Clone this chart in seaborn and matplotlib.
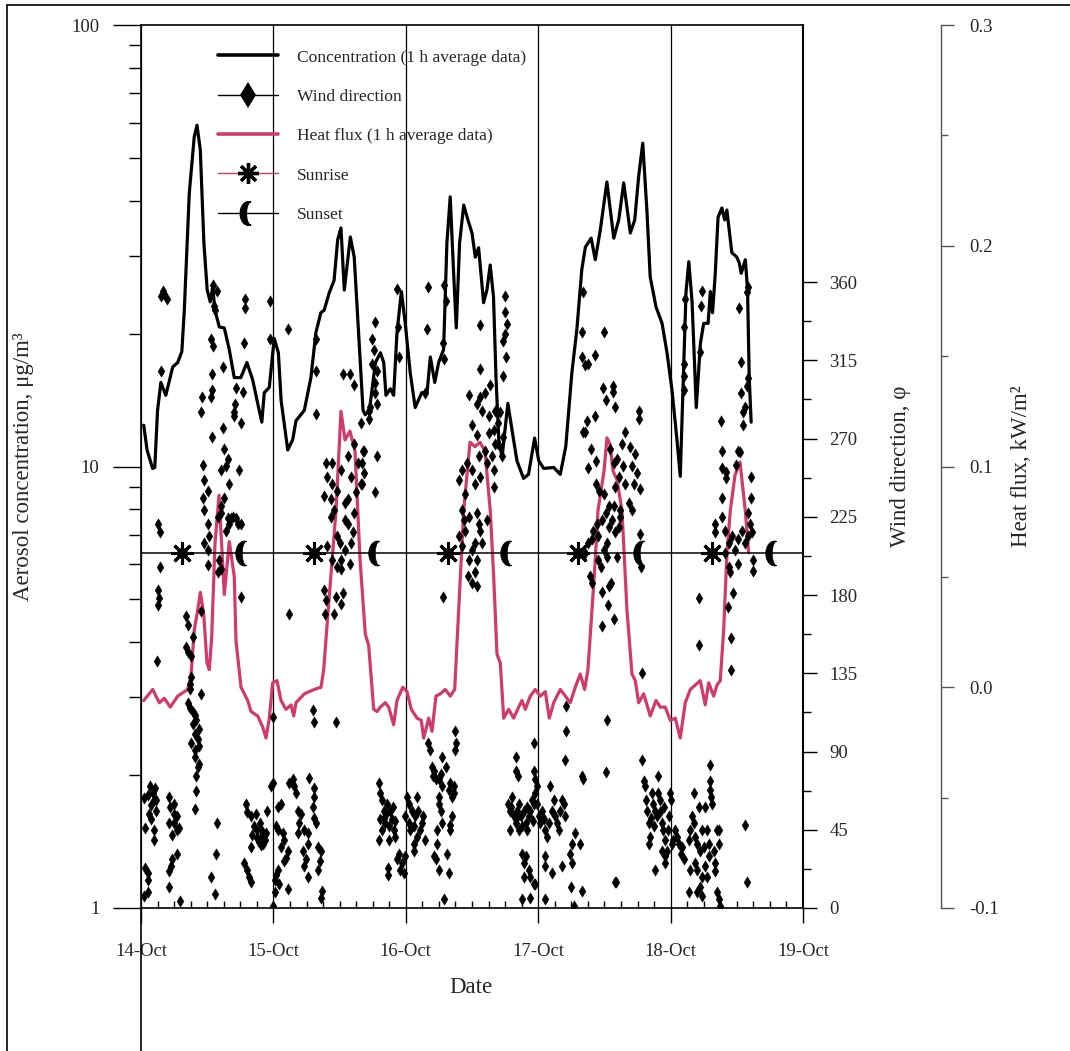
import numpy as np
import pandas as pd
import matplotlib
matplotlib.use("Agg")
import matplotlib.pyplot as plt
import seaborn as sns
from matplotlib.lines import Line2D
from matplotlib.path import Path
from matplotlib.ticker import FixedLocator, FixedFormatter, NullFormatter

# ---------------- data (hours since 14-Oct 00:00) ----------------
DAY_LABELS = ["14-Oct", "15-Oct", "16-Oct", "17-Oct", "18-Oct", "19-Oct"]

CONC_SERIES = [  # (hour, aerosol concentration ug/m3), 1 h average
    (0.5, 12.4), (1.1, 10.9), (2.1, 9.9), (2.5, 9.95), (3.0, 13.4), (3.6, 15.5), (4.5, 14.5),
    (5.75, 16.8), (6.65, 17.2), (7.4, 18.2), (7.85, 22.6), (8.75, 41.6), (9.65, 55.8),
    (10.15, 59.3), (10.75, 52.1), (11.4, 32.1), (12.0, 25.1), (12.55, 23.6), (13.0, 25.5),
    (13.4, 22.6), (14.2, 20.7), (15.1, 20.6), (16.0, 18.4), (16.9, 15.9), (18.1, 15.9),
    (19.2, 17.2), (20.25, 15.7), (21.15, 13.9), (21.9, 12.6), (22.35, 14.7), (23.25, 15.1),
    (24.15, 19.5), (24.9, 18.1), (25.4, 14.1), (26.6, 10.9), (27.5, 11.5), (28.1, 12.7),
    (29.6, 13.4), (30.8, 15.9), (31.7, 20.1), (32.6, 22.3), (33.2, 22.6), (34.1, 24.7),
    (35.0, 26.4), (35.65, 32.6), (36.25, 34.7), (36.85, 25.1), (37.95, 33.1), (38.65, 29.8),
    (39.55, 19.0), (40.25, 13.4), (40.65, 13.1), (41.4, 13.4), (42.5, 17.2), (43.4, 18.1),
    (44.0, 17.2), (44.4, 14.5), (45.2, 15.0), (45.8, 14.5), (46.4, 20.1), (47.2, 24.9),
    (47.9, 21.1), (48.8, 16.3), (49.7, 13.6), (50.9, 14.7), (51.85, 14.7), (52.45, 17.7),
    (53.25, 15.5), (53.95, 17.2), (54.85, 18.4), (55.45, 32.1), (56.05, 40.8), (56.7, 26.9),
    (57.15, 20.6), (57.75, 32.1), (58.5, 39.1), (59.25, 36.2), (60.0, 33.8), (60.6, 29.8),
    (61.2, 31.3), (62.1, 23.5), (62.7, 25.1), (63.3, 28.6), (63.9, 24.2), (64.35, 15.9),
    (64.85, 11.5), (65.45, 10.5), (66.5, 13.9), (67.25, 12.1), (68.15, 10.3), (69.35, 9.4),
    (70.25, 9.6), (71.35, 11.6), (72.1, 10.3), (73.0, 9.9), (74.8, 9.95), (76.0, 9.6),
    (77.0, 11.1), (78.1, 16.3), (79.0, 20.4), (79.9, 27.9), (80.55, 31.4), (81.6, 32.9),
    (82.35, 29.4), (83.25, 34.3), (84.45, 44.1), (85.7, 32.9), (86.6, 36.2), (87.5, 43.9),
    (88.7, 33.8), (89.5, 36.2), (90.2, 45.3), (90.95, 54.0), (91.7, 38.1), (92.3, 26.9),
    (93.35, 23.0), (94.45, 21.1), (95.35, 18.1), (96.25, 14.9), (97.15, 11.5), (97.75, 9.5),
    (98.35, 16.5), (98.8, 24.9), (99.3, 29.1), (99.9, 23.5), (100.65, 13.6), (101.4, 19.0),
    (102.0, 21.1), (102.8, 21.1), (103.2, 24.9), (103.6, 22.3), (104.1, 27.4), (104.6, 36.7),
    (105.3, 38.5), (105.8, 36.2), (106.2, 38.1), (107.1, 30.5), (108.0, 29.8), (108.45, 28.9),
    (108.8, 27.4), (109.55, 29.4), (109.95, 25.1), (110.25, 15.9), (110.6, 12.6),
]

HEAT_SERIES = [  # (hour, heat flux kW/m2), 1 h average
    (0.49, -0.006), (2.12, -0.001), (3.32, -0.007), (4.22, -0.005), (5.31, -0.009),
    (6.65, -0.004), (8.46, -0.001), (9.06, 0.005), (9.66, 0.026), (10.28, 0.035),
    (10.75, 0.043), (11.37, 0.033), (11.96, 0.011), (12.38, 0.008), (12.82, 0.023),
    (13.41, 0.065), (14.14, 0.087), (15.1, 0.042), (16.0, 0.066), (16.91, 0.05),
    (17.22, 0.021), (18.13, 0.0), (19.34, -0.006), (19.94, -0.011), (21.15, -0.013),
    (22.06, -0.018), (22.66, -0.023), (23.26, -0.014), (23.87, 0.002), (24.65, 0.003),
    (25.38, -0.006), (26.28, -0.010), (27.19, -0.008), (27.68, -0.013), (28.1, -0.007),
    (29.6, -0.003), (31.41, -0.001), (32.63, 0.0), (33.12, 0.008), (33.84, 0.032),
    (34.75, 0.061), (35.35, 0.080), (36.25, 0.125), (36.98, 0.112), (37.88, 0.116),
    (38.79, 0.107), (39.7, 0.058), (40.66, 0.024), (41.27, 0.019), (42.18, -0.010),
    (42.78, -0.011), (43.38, -0.009), (44.28, -0.007), (44.9, -0.009), (45.8, -0.017),
    (46.4, -0.006), (47.44, 0.0), (48.22, -0.002), (49.0, -0.010), (50.03, -0.014),
    (50.81, -0.015), (51.24, -0.023), (52.15, -0.014), (52.75, -0.020), (53.47, -0.004),
    (54.25, -0.003), (55.16, -0.001), (56.06, -0.004), (56.86, -0.001), (57.28, 0.020),
    (57.88, 0.050), (58.49, 0.080), (59.64, 0.111), (60.54, 0.109), (61.45, 0.111),
    (62.35, 0.107), (63.31, 0.080), (63.93, 0.050), (64.53, 0.015), (65.13, 0.011),
    (65.74, -0.014), (66.65, -0.010), (67.56, -0.014), (68.46, -0.009), (69.06, -0.006),
    (69.66, -0.010), (70.57, -0.004), (71.47, -0.001), (72.38, -0.004), (73.29, -0.002),
    (74.01, -0.014), (74.81, -0.007), (76.0, -0.001), (76.91, -0.004), (77.82, -0.007),
    (78.72, 0.0), (79.63, 0.006), (80.42, -0.001), (81.02, 0.008), (81.75, 0.035),
    (82.35, 0.058), (82.84, 0.080), (83.38, 0.089), (83.93, 0.098), (84.47, 0.113),
    (85.01, 0.110), (85.56, 0.098), (86.28, 0.094), (87.19, 0.080), (88.09, 0.035),
    (89.0, 0.006), (89.6, 0.003), (90.21, -0.007), (91.12, -0.003), (92.31, -0.013),
    (93.35, -0.006), (94.13, -0.009), (95.03, -0.009), (95.94, -0.015), (96.85, -0.014),
    (97.75, -0.023), (98.66, -0.007), (99.57, -0.001), (100.47, 0.001), (101.38, 0.003),
    (102.28, -0.008), (102.9, 0.002), (103.81, -0.004), (104.41, 0.001), (105.0, 0.003),
    (105.62, 0.026), (106.22, 0.061), (106.82, 0.080), (107.67, 0.096), (108.58, 0.102),
    (109.54, 0.080), (110.15, 0.061),
]

WIND_DAY1 = [  # (hour, wind direction deg)
    (3.9, 355), (4.2, 353), (4.8, 350), (3.6, 352), (13.0, 358), (13.8, 355), (13.2, 346),
    (13.4, 344), (18.9, 350), (18.9, 345), (18.6, 325), (23.3, 349), (23.3, 327), (12.6, 327),
    (13.0, 323), (3.6, 309), (12.8, 307), (14.8, 311), (17.2, 299), (18.4, 297), (17.1, 290),
    (16.9, 285), (16.8, 283), (18.1, 279), (12.8, 298), (12.6, 294), (11.0, 294), (10.9, 285),
    (14.8, 276), (12.9, 271), (15.1, 264), (15.8, 258), (14.5, 252), (15.4, 254), (16.0, 244),
    (17.8, 252), (11.2, 255), (11.5, 246), (12.1, 240), (11.2, 236), (15.1, 236), (14.5, 231),
    (3.0, 221), (3.5, 216), (3.5, 196), (3.1, 183), (3.3, 178), (3.1, 174), (2.9, 142),
    (8.2, 168), (8.5, 163), (9.4, 156), (8.2, 150), (8.5, 147), (9.1, 145), (9.1, 133),
    (8.9, 129), (8.8, 126), (10.8, 171), (10.8, 123), (8.5, 118), (8.9, 115), (9.4, 113),
    (9.7, 111), (10.0, 108), (9.4, 106), (10.6, 103), (9.7, 100), (9.1, 95), (10.3, 97),
    (10.6, 93), (9.7, 91), (9.8, 87), (10.6, 83), (10.3, 81), (10.0, 76), (10.0, 67), (9.8, 57),
    (0.6, 63), (1.2, 65), (1.7, 70), (2.1, 66), (2.5, 69), (2.4, 62), (1.8, 59), (2.7, 56),
    (1.5, 54), (1.8, 51), (0.7, 46), (2.3, 45), (2.4, 39), (2.7, 62), (5.0, 64), (5.3, 58),
    (6.0, 60), (6.0, 54), (5.0, 49), (6.0, 49), (6.6, 45), (5.7, 42), (6.9, 46), (6.5, 53),
    (0.7, 23), (1.2, 20), (1.3, 16), (0.6, 7), (1.3, 9), (5.7, 28), (5.4, 24), (5.1, 21),
    (5.0, 12), (6.6, 31), (7.0, 4), (13.8, 49), (13.6, 31), (12.7, 18), (13.4, 8),
    (11.5, 229), (12.1, 221), (12.4, 214), (11.5, 210), (12.1, 206), (12.1, 197), (13.9, 225),
    (14.5, 227), (15.8, 224), (16.6, 225), (17.5, 221), (18.1, 221), (15.4, 217), (14.2, 200),
    (14.5, 195), (13.9, 193), (18.1, 179), (16.3, 224), (17.2, 224), (16.0, 221),
    (19.0, 60), (19.3, 55), (19.9, 53), (20.8, 54), (20.5, 47), (20.2, 42), (21.1, 45),
    (21.8, 41), (22.4, 39), (22.1, 37), (22.7, 43), (19.9, 35), (21.5, 49), (22.8, 56),
    (23.6, 70), (23.9, 72), (18.7, 26), (19.3, 22), (19.6, 18), (19.9, 15), (21.0, 40),
    (21.4, 38), (22.0, 44), (21.7, 36),
]

WIND_DAY2 = [
    (24.8, 58), (25.4, 60), (24.5, 47), (24.8, 45), (25.7, 43), (26.0, 39), (25.4, 35),
    (26.6, 33), (26.3, 29), (26.0, 27), (24.8, 22), (25.1, 14), (26.6, 11), (24.2, 16),
    (24.5, 19), (24.2, 9), (24.0, 1), (26.9, 72), (27.5, 74), (27.8, 70), (28.1, 66),
    (28.4, 56), (29.0, 54), (28.7, 49), (28.4, 43), (29.6, 45), (30.2, 43), (30.2, 37),
    (29.3, 33), (29.9, 28), (29.6, 24), (30.2, 18), (30.5, 75), (31.4, 69), (31.4, 64),
    (31.1, 58), (31.4, 52), (31.7, 49), (32.0, 35), (32.6, 33), (32.5, 27), (32.0, 22),
    (32.9, 10), (32.6, 6), (26.9, 169), (31.1, 114), (31.4, 107), (35.3, 107), (24.0, 110),
    (33.2, 183), (33.5, 177), (33.4, 169), (35.0, 169), (35.3, 179), (36.3, 175), (36.6, 181),
    (34.4, 225), (35.0, 229), (35.6, 214), (36.0, 210), (36.9, 206), (36.3, 200), (37.5, 221),
    (37.8, 198), (38.4, 216), (36.9, 223), (38.7, 227), (33.8, 208), (34.7, 200), (35.6, 196),
    (36.3, 195), (38.1, 210), (26.6, 333), (31.7, 327), (31.7, 309), (31.7, 284), (36.7, 307),
    (37.9, 307), (38.7, 301), (33.5, 256), (34.7, 256), (33.8, 248), (34.7, 244), (33.1, 237),
    (34.4, 235), (35.6, 240), (36.3, 252), (37.5, 260), (38.7, 267), (39.9, 279), (39.3, 256),
    (38.1, 248), (39.9, 244), (37.5, 235), (39.0, 239), (36.9, 233), (40.2, 263),
    (42.5, 337), (41.9, 327), (42.2, 321), (41.9, 313), (42.8, 309), (42.5, 302), (42.4, 296),
    (42.8, 290), (41.6, 288), (41.4, 281), (41.3, 286), (40.4, 263), (40.1, 256), (40.4, 250),
    (40.1, 244), (42.8, 260), (42.5, 239), (46.4, 356), (46.6, 334), (46.7, 317),
    (43.1, 72), (43.4, 66), (43.7, 62), (44.0, 56), (43.4, 51), (43.7, 45), (44.3, 49),
    (44.6, 60), (45.2, 56), (45.5, 51), (45.8, 45), (44.9, 39), (46.1, 41), (43.1, 39),
    (46.4, 28), (46.7, 31), (47.3, 26), (47.0, 22), (47.6, 20), (47.9, 30), (44.8, 23),
    (44.8, 19), (47.9, 53), (44.0, 52), (44.5, 54), (45.0, 47), (46.0, 50), (45.6, 58),
]

WIND_DAY3 = [
    (48.5, 49), (48.8, 45), (49.4, 47), (49.7, 53), (50.3, 56), (50.0, 64), (49.1, 56),
    (50.9, 49), (51.2, 53), (50.6, 45), (50.0, 41), (49.4, 37), (49.4, 33), (51.5, 39),
    (48.2, 64), (48.5, 60), (52.1, 95), (52.4, 91), (52.8, 81), (53.1, 79), (52.9, 76),
    (53.4, 74), (54.0, 74), (54.6, 87), (54.3, 77), (54.6, 70), (55.2, 81), (55.8, 68),
    (56.1, 72), (56.4, 64), (57.0, 102), (57.1, 95), (57.0, 91), (56.7, 70), (56.7, 66),
    (54.0, 64), (54.0, 60), (54.3, 56), (54.6, 49), (53.7, 45), (53.7, 37), (53.1, 30),
    (53.4, 28), (54.0, 22), (55.5, 31), (56.1, 45), (56.4, 53), (56.1, 48), (55.8, 20),
    (54.9, 5), (58.2, 229), (58.5, 223), (58.8, 217), (59.4, 225), (60.9, 227), (61.2, 221),
    (61.5, 217), (60.6, 210), (60.0, 206), (59.4, 200), (60.9, 200), (60.6, 193), (59.3, 191),
    (60.0, 187), (60.9, 185), (57.6, 214), (58.2, 208), (61.8, 210), (62.7, 223), (54.7, 179),
    (52.1, 357), (51.8, 333), (54.9, 358), (55.2, 349), (54.7, 325), (54.9, 316), (51.5, 296),
    (61.5, 335), (61.4, 310), (66.0, 352), (65.9, 343), (66.3, 336), (66.0, 330), (65.7, 326),
    (66.2, 317), (65.7, 306), (59.4, 295), (60.9, 290), (61.5, 294), (62.4, 296), (63.3, 301),
    (61.8, 286), (63.0, 283), (64.2, 286), (65.1, 285), (64.8, 279), (63.9, 275), (64.2, 267),
    (63.0, 273), (62.4, 263), (63.6, 260), (60.9, 272), (60.0, 278), (61.2, 260), (60.0, 252),
    (59.1, 256), (58.2, 252), (57.6, 246), (58.8, 238), (60.6, 244), (61.5, 248), (62.7, 256),
    (63.9, 252), (63.9, 242), (64.8, 267), (65.4, 260), (65.7, 271),
    (66.6, 60), (66.9, 56), (67.3, 64), (67.6, 53), (67.9, 49), (68.2, 56), (68.5, 60),
    (68.8, 53), (69.1, 47), (69.4, 56), (69.7, 49), (70.0, 45), (70.3, 53), (70.6, 56),
    (70.9, 62), (71.2, 60), (71.5, 66), (71.8, 60), (68.5, 45), (68.0, 87), (68.0, 79),
    (68.3, 76), (71.2, 95), (71.2, 79), (71.5, 74), (71.8, 70), (66.9, 45), (69.1, 31),
    (69.4, 26), (69.7, 30), (70.3, 22), (70.6, 18), (69.4, 18), (71.2, 14), (71.5, 14),
    (69.0, 5), (70.6, 6), (67.0, 58), (68.0, 51), (70.0, 58), (71.0, 50),
]

WIND_DAY4 = [
    (72.1, 53), (72.4, 49), (72.7, 56), (73.0, 51), (73.3, 45), (73.6, 41), (73.9, 49),
    (74.2, 70), (74.5, 56), (74.8, 62), (75.1, 53), (75.4, 49), (75.7, 45), (76.0, 56),
    (76.3, 62), (76.6, 60), (76.9, 53), (73.2, 30), (73.3, 24), (74.5, 20), (76.3, 24),
    (77.8, 31), (78.2, 26), (78.1, 37), (78.7, 43), (78.0, 12), (79.6, 37), (79.9, 10),
    (73.3, 5), (78.4, 1), (79.9, 76), (77.0, 116), (77.0, 102), (76.9, 85),
    (80.2, 354), (79.9, 331), (83.9, 331), (80.4, 312), (81.0, 313), (82.3, 318), (83.7, 299),
    (84.3, 292), (85.5, 300), (85.5, 297), (86.0, 288), (82.3, 283), (80.8, 280), (80.5, 274),
    (81.6, 264), (81.1, 253), (82.5, 257), (82.5, 244), (83.0, 240), (84.0, 238), (85.1, 264),
    (85.7, 256), (86.3, 258), (87.2, 267), (87.8, 274), (87.3, 254), (88.7, 265), (89.0, 254),
    (89.6, 261), (89.9, 250), (90.5, 241), (89.3, 244), (87.7, 244), (86.6, 248), (86.0, 242),
    (84.9, 231), (85.7, 231), (88.4, 233), (90.2, 286), (90.3, 281), (80.0, 317), (80.1, 274),
    (80.5, 204), (81.1, 210), (81.7, 212), (82.0, 217), (82.6, 221), (82.9, 214), (83.6, 223),
    (84.2, 227), (84.5, 210), (84.8, 219), (85.4, 223), (86.0, 216), (86.6, 219), (86.9, 225),
    (83.9, 206), (84.5, 202), (82.9, 200), (83.3, 196), (81.4, 191), (81.7, 187), (83.6, 182),
    (84.8, 185), (85.2, 187), (84.6, 174), (85.7, 166), (83.6, 162), (86.3, 202), (86.9, 229),
    (90.5, 215), (90.7, 196), (89.0, 229), (90.8, 135), (84.5, 108), (84.3, 78), (80.2, 74),
    (86.0, 15), (86.1, 15),
    (90.8, 85), (91.1, 73), (91.4, 70), (91.5, 62), (91.7, 56), (92.0, 49), (92.3, 41),
    (92.0, 37), (92.6, 66), (92.9, 60), (93.2, 56), (93.5, 53), (93.7, 76), (93.8, 66),
    (94.1, 62), (94.4, 49), (94.7, 45), (95.0, 39), (95.3, 33), (95.6, 45), (95.8, 53),
    (95.9, 66), (94.4, 33), (95.0, 30), (95.0, 26), (93.2, 22), (92.5, 52), (93.0, 47),
    (94.0, 55), (94.8, 58),
]

WIND_DAY5 = [
    (96.1, 62), (96.2, 37), (96.5, 39), (96.8, 45), (97.2, 41), (97.5, 37), (97.8, 31),
    (98.1, 35), (98.4, 28), (99.3, 39), (99.6, 45), (99.9, 53), (100.2, 49), (100.5, 41),
    (100.8, 37), (101.1, 58), (101.4, 33), (101.7, 45), (102.0, 35), (102.3, 58), (102.6, 45),
    (102.9, 37), (103.2, 68), (103.4, 64), (103.5, 60), (103.2, 73), (103.1, 82), (103.8, 33),
    (104.1, 26), (104.4, 45), (104.7, 37), (104.8, 45), (100.2, 66), (99.6, 22), (100.5, 26),
    (100.8, 22), (101.7, 18), (102.3, 24), (102.6, 18), (102.9, 30), (101.4, 12), (99.3, 9),
    (100.8, 9), (101.7, 7), (104.4, 9), (104.7, 5), (105.0, 1), (104.1, 21), (109.5, 48),
    (109.8, 15), (104.1, 221), (104.1, 216), (105.3, 225), (105.9, 217), (106.5, 210),
    (107.1, 214), (107.7, 206), (108.3, 212), (108.9, 217), (109.5, 210), (110.1, 214),
    (110.4, 221), (110.7, 216), (110.1, 227), (105.9, 204), (106.5, 196), (106.8, 193),
    (108.3, 198), (111.0, 200), (110.9, 194), (107.4, 181), (106.4, 173), (101.1, 178),
    (101.2, 151), (107.0, 155), (107.0, 137), (101.7, 355), (101.6, 346), (98.7, 350),
    (98.5, 334), (98.4, 313), (98.4, 306), (98.5, 298), (101.4, 320), (108.4, 345),
    (108.8, 314), (108.8, 296), (109.1, 285), (109.2, 278), (109.5, 288), (109.8, 300),
    (110.1, 305), (109.8, 354), (110.1, 357), (105.2, 280), (105.3, 263), (105.3, 253),
    (106.0, 251), (106.0, 247), (107.8, 255), (108.3, 263), (108.6, 262), (110.6, 248),
    (110.6, 236), (105.4, 236),
]

SUNRISE_HOURS = [7.5, 31.4, 55.6, 79.3, 103.5]
SUNSET_HOURS = [18.7, 42.8, 66.7, 90.8, 114.8]
SUN_LEVEL = 204  # drawn on the wind-direction scale

PINK = "#d03a6c"

conc_df = pd.DataFrame(CONC_SERIES, columns=["hour", "conc"])
heat_df = pd.DataFrame(HEAT_SERIES, columns=["hour", "flux"])
wind_df = pd.DataFrame(WIND_DAY1 + WIND_DAY2 + WIND_DAY3 + WIND_DAY4 + WIND_DAY5,
                       columns=["hour", "deg"])

# ---------------- style ----------------
sns.set_theme(style="white")
plt.rcParams["font.family"] = ["Liberation Serif", "DejaVu Serif"]
plt.rcParams["axes.unicode_minus"] = False

TICK_FS = 13.5
LABEL_FS = 16.5
LEG_FS = 12.6

# crescent-moon marker
t = np.linspace(np.radians(75), np.radians(285), 40)
outer = np.column_stack([0.7 * np.cos(t), np.sin(t)])
xe, ye = 0.7 * np.cos(np.radians(285)), np.sin(np.radians(285))
u = np.linspace(0, np.pi, 30)
inner = np.column_stack([xe - 0.36 * np.sin(u), ye * np.cos(u)])
mv = np.vstack([outer, inner, outer[:1]])
mc = [Path.MOVETO] + [Path.LINETO] * (len(mv) - 2) + [Path.CLOSEPOLY]
MOON = Path(mv, mc)

W, H = 1070, 1051
fig = plt.figure(figsize=(W / 100, H / 100), dpi=100)
L, R, B, T = 141 / W, 803 / W, 1 - 908 / H, 1 - 25 / H
ax = fig.add_axes([L, B, R - L, T - B])
ax2 = ax.twinx()   # wind direction
ax3 = ax.twinx()   # heat flux
ax3.set_zorder(1)
ax2.set_zorder(2)

# concentration
sns.lineplot(data=conc_df, x="hour", y="conc", ax=ax, color="black", lw=2.3,
             estimator=None, sort=False, legend=False)
ax.set_yscale("log")
ax.set_ylim(1, 100)
ax.set_xlim(0, 120)

# heat flux
sns.lineplot(data=heat_df, x="hour", y="flux", ax=ax3, color=PINK, lw=2.3,
             estimator=None, sort=False, legend=False)
ax3.set_ylim(-0.1, 0.3)

# wind direction
sns.scatterplot(data=wind_df, x="hour", y="deg", ax=ax2, marker="d", s=34,
                color="black", edgecolor="black", linewidth=0.3, legend=False)
ax2.set_ylim(0, 507.8)

# sunrise / sunset
ax2.axhline(SUN_LEVEL, color="black", lw=1.1, zorder=3)
ax2.plot(SUNRISE_HOURS, [SUN_LEVEL] * len(SUNRISE_HOURS), ls="none", marker=(8, 2, 0),
         ms=16, mew=2.2, color="black", zorder=4)
ax2.plot(SUNRISE_HOURS, [SUN_LEVEL] * len(SUNRISE_HOURS), ls="none", marker="o",
         ms=7, color="black", zorder=4)
ax2.plot(SUNSET_HOURS, [SUN_LEVEL] * len(SUNSET_HOURS), ls="none", marker=MOON,
         ms=18, mfc="black", mec="black", mew=0.5, zorder=4)

# ---------------- axes cosmetics ----------------
for a in (ax, ax2, ax3):
    a.set_xlabel("")
    a.set_ylabel("")

# x axis
ax.xaxis.set_major_locator(FixedLocator([24 * i for i in range(len(DAY_LABELS))]))
ax.xaxis.set_major_formatter(FixedFormatter(DAY_LABELS))
ax.xaxis.set_minor_locator(FixedLocator(np.arange(0, 121, 3)))
ax.tick_params(axis="x", which="major", direction="out", length=11, width=1.0,
               color="black", labelsize=TICK_FS, pad=14, bottom=True)
ax.tick_params(axis="x", which="minor", direction="in", length=5, width=1.0,
               color="black", bottom=True)
ax.grid(True, axis="x", which="major", color="black", lw=0.9)
ax.grid(False, axis="y")

# left log axis
ax.yaxis.set_major_locator(FixedLocator([1, 10, 100]))
ax.yaxis.set_major_formatter(FixedFormatter(["1", "10", "100"]))
ax.yaxis.set_minor_locator(FixedLocator([m * d for d in (1, 10) for m in range(2, 10)]))
ax.yaxis.set_minor_formatter(NullFormatter())
ax.tick_params(axis="y", which="major", direction="out", length=20, width=1.0,
               color="black", labelsize=TICK_FS, pad=10, left=True)
ax.tick_params(axis="y", which="minor", direction="out", length=9, width=1.0,
               color="black", left=True)
for s in ax.spines.values():
    s.set_color("black")
    s.set_linewidth(1.2)
ax.spines["right"].set_visible(False)

# wind axis
ax2.yaxis.set_major_locator(FixedLocator(np.arange(0, 361, 45)))
ax2.yaxis.set_major_formatter(FixedFormatter([str(v) for v in range(0, 361, 45)]))
ax2.yaxis.set_minor_locator(FixedLocator(np.arange(22.5, 360, 45)))
ax2.tick_params(axis="y", which="major", direction="out", length=10, width=1.0,
                color="black", labelsize=TICK_FS, pad=9, right=True)
ax2.tick_params(axis="y", which="minor", direction="out", length=5.5, width=1.0,
                color="black", right=True)
for k in ("left", "top", "bottom"):
    ax2.spines[k].set_visible(False)
ax2.spines["right"].set_color("black")
ax2.spines["right"].set_linewidth(1.5)

# heat flux axis
ax3.spines["right"].set_position(("axes", (941 - 141) / 662))
for k in ("left", "top", "bottom"):
    ax3.spines[k].set_visible(False)
ax3.spines["right"].set_color("#555555")
ax3.spines["right"].set_linewidth(1.0)
ax3.yaxis.set_major_locator(FixedLocator([-0.1, 0.0, 0.1, 0.2, 0.3]))
ax3.yaxis.set_major_formatter(FixedFormatter(["-0.1", "0.0", "0.1", "0.2", "0.3"]))
ax3.yaxis.set_minor_locator(FixedLocator([-0.05, 0.05, 0.15, 0.25]))
ax3.tick_params(axis="y", which="major", direction="out", length=9.5, width=1.0,
                color="#555555", labelsize=TICK_FS, pad=11, right=True)
ax3.tick_params(axis="y", which="minor", direction="out", length=5, width=1.0,
                color="#555555", right=True)

# labels
ax.set_xlabel("Date", fontsize=LABEL_FS)
ax.xaxis.set_label_coords(0.4985, -(977 - 908) / 883)
ax.set_ylabel("Aerosol concentration, μg/m³", fontsize=LABEL_FS)
ax.yaxis.set_label_coords(-(141 - 34) / 662, 0.5)
ax2.set_ylabel("Wind direction, φ", fontsize=LABEL_FS)
ax2.yaxis.set_label_coords((890 - 141) / 662, 0.5)
ax3.set_ylabel("Heat flux, kW/m²", fontsize=LABEL_FS)
ax3.yaxis.set_label_coords((1011 - 141) / 662, 0.5)

# legend (proxy handles)
handles = [
    Line2D([], [], color="black", lw=2.6),
    Line2D([], [], color="black", lw=1.0, marker="d", ms=13, mew=0),
    Line2D([], [], color=PINK, lw=2.6),
    Line2D([], [], color=PINK, lw=1.0, marker=(8, 2, 0), ms=15, mew=2.4,
           mec="black", mfc="black"),
    Line2D([], [], color="black", lw=1.0, marker=MOON, ms=17, mfc="black", mec="black"),
]
labels = ["Concentration (1 h average data)", "Wind direction",
          "Heat flux (1 h average data)", "Sunrise", "Sunset"]
leg = ax2.legend(handles, labels, loc="upper left", bbox_to_anchor=((218 - 141) / 662, 0.9725),
                 frameon=False, handlelength=3.4, handletextpad=1.1, labelspacing=1.32,
                 borderpad=0, borderaxespad=0, fontsize=LEG_FS, numpoints=1)

# extended left spine and outer frame lines
fig.add_artist(Line2D([L, L], [0, B], transform=fig.transFigure, color="black", lw=1.2))
fig.add_artist(Line2D([7 / W, 1], [1 - 5 / H, 1 - 5 / H], transform=fig.transFigure,
                      color="black", lw=1.2))
fig.add_artist(Line2D([7 / W, 7 / W], [0, 1 - 5 / H], transform=fig.transFigure,
                      color="black", lw=1.2))

fig.savefig("out.png", dpi=100)
